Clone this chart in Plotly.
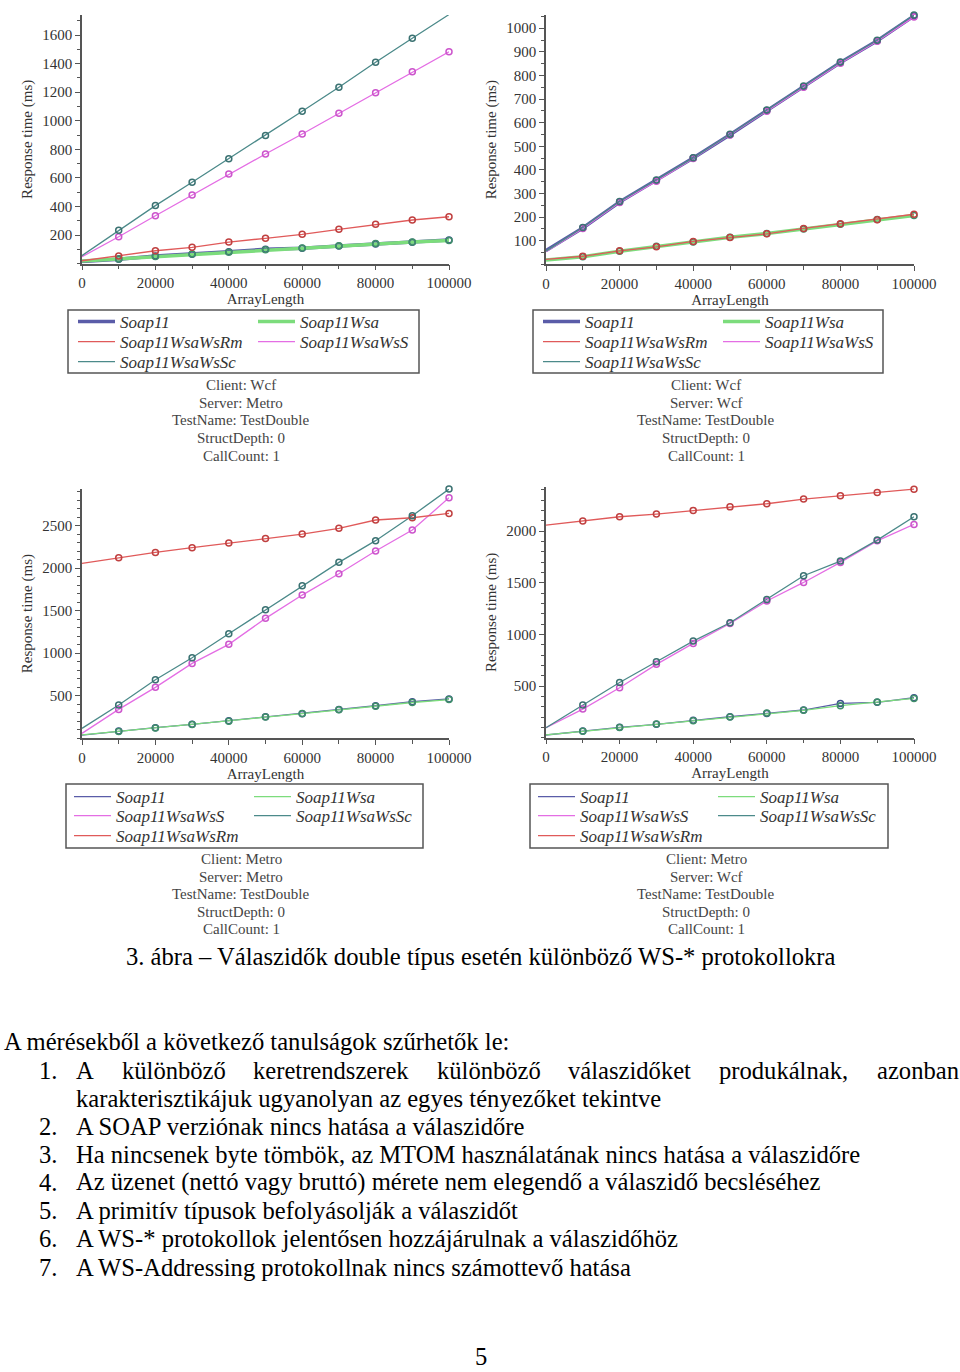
import plotly.graph_objects as go

W, H = 960, 1372

array_length = [0, 10000, 20000, 30000, 40000, 50000, 60000, 70000, 80000, 90000, 100000]
series_names = ["Soap11", "Soap11Wsa", "Soap11WsaWsRm", "Soap11WsaWsS", "Soap11WsaWsSc"]

# Panel 1: Client Wcf / Server Metro
p1_soap11 = [15, 30, 53, 65, 83, 100, 107, 123, 137, 149, 165]
p1_wsa = [18, 33, 50, 68, 80, 97, 110, 125, 140, 152, 162]
p1_rm = [20, 53, 90, 114, 151, 177, 205, 240, 275, 305, 328]
p1_s = [48, 188, 335, 480, 627, 767, 907, 1052, 1196, 1343, 1483]
p1_sc = [56, 233, 406, 569, 733, 896, 1066, 1234, 1409, 1577, 1743]

# Panel 2: Client Wcf / Server Wcf
p2_soap11 = [58, 154, 264, 355, 450, 549, 651, 752, 855, 947, 1052]
p2_wsa = [18, 32, 55, 76, 94, 115, 130, 150, 170, 190, 207]
p2_rm = [21, 34, 57, 74, 97, 113, 129, 152, 172, 189, 212]
p2_s = [53, 152, 262, 352, 448, 548, 648, 750, 852, 945, 1048]
p2_sc = [56, 156, 266, 357, 451, 551, 654, 755, 857, 949, 1056]

# Panel 3: Client Metro / Server Metro
p3_soap11 = [37, 84, 124, 163, 206, 253, 288, 339, 382, 429, 461]
p3_wsa = [40, 80, 120, 160, 200, 248, 290, 335, 375, 420, 455]
p3_rm = [2057, 2124, 2186, 2241, 2296, 2351, 2402, 2469, 2567, 2594, 2645]
p3_s = [57, 339, 598, 880, 1104, 1410, 1684, 1935, 2202, 2449, 2829]
p3_sc = [116, 390, 688, 947, 1229, 1512, 1794, 2069, 2324, 2618, 2931]

# Panel 4: Client Metro / Server Wcf
p4_soap11 = [26, 65, 100, 129, 168, 203, 235, 268, 332, 342, 387]
p4_wsa = [28, 62, 98, 132, 165, 200, 238, 265, 310, 345, 380]
p4_rm = [2058, 2097, 2139, 2165, 2200, 2235, 2265, 2310, 2342, 2374, 2406]
p4_s = [97, 277, 484, 710, 913, 1106, 1323, 1503, 1697, 1906, 2065]
p4_sc = [97, 316, 535, 735, 935, 1113, 1339, 1568, 1710, 1913, 2139]

x_tick_vals = [0, 20000, 40000, 60000, 80000, 100000]
x_tick_text = ["0", "20000", "40000", "60000", "80000", "100000"]
p1_y_ticks = [200, 400, 600, 800, 1000, 1200, 1400, 1600]
p2_y_ticks = [100, 200, 300, 400, 500, 600, 700, 800, 900, 1000]
p3_y_ticks = [500, 1000, 1500, 2000, 2500]
p4_y_ticks = [500, 1000, 1500, 2000]

info_p1 = ["Client: Wcf", "Server: Metro", "TestName: TestDouble", "StructDepth: 0", "CallCount: 1"]
info_p2 = ["Client: Wcf", "Server: Wcf", "TestName: TestDouble", "StructDepth: 0", "CallCount: 1"]
info_p3 = ["Client: Metro", "Server: Metro", "TestName: TestDouble", "StructDepth: 0", "CallCount: 1"]
info_p4 = ["Client: Metro", "Server: Wcf", "TestName: TestDouble", "StructDepth: 0", "CallCount: 1"]

caption = "3. ábra – Válaszidők double típus esetén különböző WS-* protokollokra"
intro = "A mérésekből a következő tanulságok szűrhetők le:"
item1_words = ["A", "különböző", "keretrendszerek", "különböző", "válaszidőket", "produkálnak,", "azonban"]
item1_cont = "karakterisztikájuk ugyanolyan az egyes tényezőket tekintve"
items = [
    "A SOAP verziónak nincs hatása a válaszidőre",
    "Ha nincsenek byte tömbök, az MTOM használatának nincs hatása a válaszidőre",
    "Az üzenet (nettó vagy bruttó) mérete nem elegendő a válaszidő becsléséhez",
    "A primitív típusok befolyásolják a válaszidőt",
    "A WS-* protokollok jelentősen hozzájárulnak a válaszidőhöz",
    "A WS-Addressing protokollnak nincs számottevő hatása",
]
page_number = "5"

colors = {
    "Soap11": "#5a5ca8",
    "Soap11Wsa": "#7cdc7c",
    "Soap11WsaWsRm": "#e05a5a",
    "Soap11WsaWsS": "#e46ee4",
    "Soap11WsaWsSc": "#4c8a8a",
}
marker_colors = {
    "Soap11": "#3c4f8c",
    "Soap11Wsa": "#3f8f6a",
    "Soap11WsaWsRm": "#c04040",
    "Soap11WsaWsS": "#cc55cc",
    "Soap11WsaWsSc": "#3b7272",
}

SERIF = "Liberation Serif"


def X(px):
    return px / W


def Y(py):
    return 1 - py / H


fig = go.Figure()

panels = [
    dict(xa="x", ya="y", data=[p1_soap11, p1_wsa, p1_rm, p1_s, p1_sc], thick=True,
         xdom=(82, 449), ypx=(263.6, 15), ymax=1740, yticks=p1_y_ticks, ydt=100,
         rows=[["Soap11", "Soap11Wsa"], ["Soap11WsaWsRm", "Soap11WsaWsS"], ["Soap11WsaWsSc"]],
         leg_x=73, leg_y=[322, 342, 362], box=(68, 310, 419, 373), info=info_p1, info_x=241,
         info_y=[385, 403, 420, 438, 456]),
    dict(xa="x2", ya="y2", data=[p2_soap11, p2_wsa, p2_rm, p2_s, p2_sc], thick=True,
         xdom=(546, 914), ypx=(264.3, 15), ymax=1056, yticks=p2_y_ticks, ydt=50,
         rows=[["Soap11", "Soap11Wsa"], ["Soap11WsaWsRm", "Soap11WsaWsS"], ["Soap11WsaWsSc"]],
         leg_x=538, leg_y=[322, 342, 362], box=(533, 310, 883, 373), info=info_p2, info_x=706,
         info_y=[385, 403, 420, 438, 456]),
    dict(xa="x3", ya="y3", data=[p3_soap11, p3_wsa, p3_rm, p3_s, p3_sc], thick=False,
         xdom=(82, 449), ypx=(738.2, 489), ymax=2932, yticks=p3_y_ticks, ydt=100,
         rows=[["Soap11", "Soap11Wsa"], ["Soap11WsaWsS", "Soap11WsaWsSc"], ["Soap11WsaWsRm"]],
         leg_x=69, leg_y=[797, 816, 836], box=(66, 784, 423, 848), info=info_p3, info_x=241,
         info_y=[859, 877, 894, 912, 929]),
    dict(xa="x4", ya="y4", data=[p4_soap11, p4_wsa, p4_rm, p4_s, p4_sc], thick=False,
         xdom=(546, 914), ypx=(737.7, 487), ymax=2427, yticks=p4_y_ticks, ydt=100,
         rows=[["Soap11", "Soap11Wsa"], ["Soap11WsaWsS", "Soap11WsaWsSc"], ["Soap11WsaWsRm"]],
         leg_x=533, leg_y=[797, 816, 836], box=(530, 784, 888, 848), info=info_p4, info_x=706,
         info_y=[859, 877, 894, 912, 929]),
]

layout_extra = {}
annotations = []
shapes = []
legend_counter = 0

for pi, p in enumerate(panels):
    legend_ids = []
    for ri, row in enumerate(p["rows"]):
        legend_counter += 1
        lid = "legend" if legend_counter == 1 else "legend%d" % legend_counter
        legend_ids.append(lid)
        layout_extra[lid] = dict(
            x=X(p["leg_x"]), y=Y(p["leg_y"][ri]), xanchor="left", yanchor="middle",
            orientation="h", entrywidth=128, entrywidthmode="pixels",
            bgcolor="rgba(0,0,0,0)", borderwidth=0, itemwidth=37,
            font=dict(family=SERIF, size=17, color="#333333", style="italic"),
            traceorder="normal", tracegroupgap=0,
        )
    name_to_legend = {}
    for ri, row in enumerate(p["rows"]):
        for n in row:
            name_to_legend[n] = legend_ids[ri]
    for ri, row in enumerate(p["rows"]):
        for n in row:
            vals = p["data"][series_names.index(n)]
            lw = 3.5 if (p["thick"] and n in ("Soap11", "Soap11Wsa")) else 1.3
            fig.add_trace(go.Scatter(
                x=array_length, y=vals, mode="lines", name=n,
                line=dict(color=colors[n], width=lw),
                xaxis=p["xa"], yaxis=p["ya"], legend=name_to_legend[n],
                showlegend=True, hoverinfo="skip",
            ))
    for n, vals in zip(series_names, p["data"]):
        fig.add_trace(go.Scatter(
            x=array_length[1:], y=vals[1:], mode="markers", name=n,
            marker=dict(symbol="circle-open", size=6, color=marker_colors[n], line=dict(width=1.5)),
            xaxis=p["xa"], yaxis=p["ya"], showlegend=False, cliponaxis=False,
        ))
    xkey = "xaxis" if p["xa"] == "x" else "xaxis" + p["xa"][1:]
    ykey = "yaxis" if p["ya"] == "y" else "yaxis" + p["ya"][1:]
    layout_extra[xkey] = dict(
        domain=[X(p["xdom"][0]), X(p["xdom"][1])], range=[0, 100000], anchor=p["ya"],
        tickvals=x_tick_vals, ticktext=x_tick_text, ticks="outside", ticklen=5,
        tickcolor="#555", tickwidth=1, automargin=False,
        minor=dict(dtick=10000, tick0=0, ticks="outside", ticklen=4, tickcolor="#555", showgrid=False),
        showline=True, linecolor="#555", linewidth=1.5, showgrid=False, zeroline=False,
        tickfont=dict(family=SERIF, size=15, color="#333"),
        title=dict(text="ArrayLength", font=dict(family=SERIF, size=15, color="#333"), standoff=2),
    )
    layout_extra[ykey] = dict(
        domain=[Y(p["ypx"][0]), Y(p["ypx"][1])], range=[0, p["ymax"]], anchor=p["xa"],
        tickvals=p["yticks"], ticks="outside", ticklen=5, tickcolor="#555", tickwidth=1,
        automargin=False,
        minor=dict(dtick=p["ydt"], tick0=0, ticks="outside", ticklen=3, tickcolor="#555", showgrid=False),
        showline=True, linecolor="#555", linewidth=1.5, showgrid=False, zeroline=False,
        tickfont=dict(family=SERIF, size=15, color="#333"),
        title=dict(text="Response time (ms)", font=dict(family=SERIF, size=15, color="#333"), standoff=6),
    )
    bx0, by0, bx1, by1 = p["box"]
    shapes.append(dict(type="rect", xref="paper", yref="paper", x0=X(bx0), x1=X(bx1), y0=Y(by1), y1=Y(by0),
                       line=dict(color="#555", width=1.5), fillcolor="rgba(0,0,0,0)"))
    for txt_, yy in zip(p["info"], p["info_y"]):
        annotations.append(dict(text=txt_, x=X(p["info_x"]), y=Y(yy), xref="paper", yref="paper",
                                xanchor="center", yanchor="middle", showarrow=False,
                                font=dict(family=SERIF, size=15, color="#444")))

BODY = dict(family=SERIF, size=24.6, color="#000")


def txt(t, x, y, anchor="left", yanchor="middle"):
    annotations.append(dict(text=t, x=X(x), y=Y(y), xref="paper", yref="paper", xanchor=anchor,
                            yanchor=yanchor, showarrow=False, font=BODY))


txt(caption, 481, 956, "center")
txt(intro, 2, 1041)
txt("1.", 37, 1070)
word_x = [74, 120, 251, 435, 566, 717]
for w_, xx in zip(item1_words[:-1], word_x):
    txt(w_, xx, 1070)
txt(item1_words[-1], 961, 1070, "right")
txt(item1_cont, 74, 1098)
row_y = [1126, 1154, 1182, 1210, 1238, 1267]
for i, (t, yy) in enumerate(zip(items, row_y)):
    txt("%d." % (i + 2), 37, yy)
    txt(t, 74, yy)
txt(page_number, 481, 1372, "center", "bottom")

fig.update_layout(
    width=W, height=H, margin=dict(l=0, r=0, t=0, b=0, autoexpand=False), autosize=False,
    paper_bgcolor="white", plot_bgcolor="white",
    annotations=annotations, shapes=shapes,
    **layout_extra,
)

fig.write_html(
    "out.html",
    config={"displayModeBar": False, "responsive": False},
    post_script="document.body.style.margin='0';document.body.style.overflow='hidden';"
                "document.documentElement.style.overflow='hidden';",
)
